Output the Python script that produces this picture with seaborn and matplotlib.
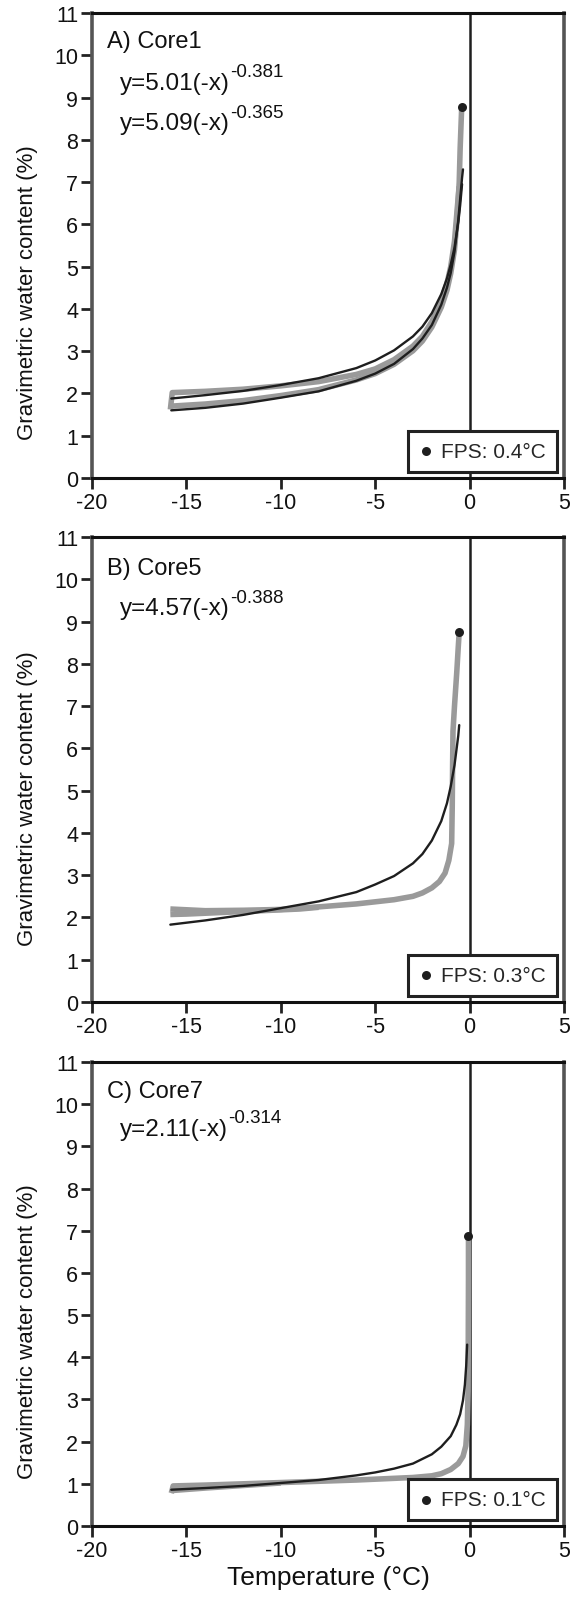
import matplotlib
matplotlib.use('Agg')
import matplotlib.pyplot as plt
import seaborn as sns
import pandas as pd

# ---------------- data ----------------
panel_titles = ["A) Core1", "B) Core5", "C) Core7"]
fps_labels = ["FPS: 0.4\u00b0C", "FPS: 0.3\u00b0C", "FPS: 0.1\u00b0C"]
x_ticks = [-20, -15, -10, -5, 0, 5]
y_ticks = list(range(12))

# Panel A (Core1)
A_gray1_x = [-15.8, -14, -12, -10, -8, -6, -5, -4, -3, -2.5, -2, -1.5, -1.2, -1.0, -0.8, -0.65, -0.55, -0.5, -0.45, -0.42]
A_gray1_y = [1.70, 1.75, 1.83, 1.95, 2.09, 2.32, 2.47, 2.69, 3.01, 3.24, 3.57, 4.04, 4.44, 4.84, 5.40, 6.20, 7.00, 7.80, 8.40, 8.75]
A_gray2_x = [-15.85, -15.75, -14, -12, -10, -8, -6, -5, -4, -3, -2.5, -2, -1.5, -1.2, -1.0, -0.8, -0.65, -0.55]
A_gray2_y = [1.62, 2.02, 2.05, 2.10, 2.18, 2.28, 2.45, 2.58, 2.80, 3.12, 3.35, 3.70, 4.20, 4.60, 5.00, 5.60, 6.40, 6.90]
A_fit1_x = [-15.8, -14, -12, -10, -8, -6, -5, -4, -3, -2.5, -2, -1.5, -1.2, -1.0, -0.8, -0.6, -0.5, -0.4]
A_fit1_y = [1.88, 1.96, 2.06, 2.20, 2.36, 2.60, 2.78, 3.02, 3.35, 3.58, 3.90, 4.35, 4.72, 5.05, 5.45, 6.05, 6.45, 6.95]
A_fit2_x = [-15.8, -14, -12, -10, -8, -6, -5, -4, -3, -2.5, -2, -1.5, -1.2, -1.0, -0.8, -0.6, -0.5, -0.4, -0.35]
A_fit2_y = [1.60, 1.66, 1.76, 1.90, 2.05, 2.30, 2.47, 2.70, 3.05, 3.30, 3.62, 4.10, 4.50, 4.85, 5.35, 6.10, 6.60, 7.10, 7.30]
A_fps = (-0.42, 8.77)
A_eq_main = ["y=5.01(-x)", "y=5.09(-x)"]
A_eq_exp = ["-0.381", "-0.365"]

# Panel B (Core5)
B_gray1_x = [-15.85, -14, -12, -10, -8, -6, -5, -4, -3, -2.5, -2, -1.6, -1.3, -1.1, -0.95, -0.92, -0.90, -0.88, -0.80, -0.68, -0.60, -0.55]
B_gray1_y = [2.20, 2.16, 2.17, 2.19, 2.25, 2.32, 2.37, 2.42, 2.50, 2.58, 2.70, 2.85, 3.05, 3.35, 3.75, 4.60, 5.60, 6.40, 7.00, 7.80, 8.40, 8.75]
B_gray2_x = [-15.85, -15, -13, -11, -9, -8]
B_gray2_y = [2.07, 2.08, 2.12, 2.16, 2.20, 2.24]
B_fit_x = [-15.85, -14, -12, -10, -8, -6, -5, -4, -3, -2.5, -2, -1.5, -1.2, -1.0, -0.8, -0.7, -0.6, -0.55]
B_fit_y = [1.83, 1.93, 2.06, 2.22, 2.38, 2.60, 2.78, 2.98, 3.28, 3.50, 3.82, 4.28, 4.70, 5.10, 5.60, 5.95, 6.30, 6.55]
B_fps = (-0.55, 8.75)
B_eq_main = ["y=4.57(-x)"]
B_eq_exp = ["-0.388"]

# Panel C (Core7)
C_gray1_x = [-15.8, -15.7, -14, -12, -10, -8, -6, -5, -4, -3, -2, -1.5, -1.0, -0.6, -0.35, -0.2, -0.12, -0.08, -0.07, -0.06, -0.06]
C_gray1_y = [0.78, 0.95, 0.97, 1.00, 1.03, 1.06, 1.09, 1.11, 1.13, 1.15, 1.19, 1.24, 1.34, 1.48, 1.65, 1.90, 2.40, 3.20, 4.50, 5.80, 6.85]
C_gray2_x = [-15.8, -14, -12, -10]
C_gray2_y = [0.84, 0.90, 0.96, 1.02]
C_fit_x = [-15.8, -14, -12, -10, -8, -6, -5, -4, -3, -2, -1.5, -1.0, -0.7, -0.5, -0.35, -0.25, -0.18, -0.13]
C_fit_y = [0.86, 0.90, 0.95, 1.02, 1.09, 1.20, 1.27, 1.36, 1.48, 1.70, 1.88, 2.13, 2.40, 2.65, 2.98, 3.35, 3.80, 4.30]
C_fps = (-0.08, 6.88)
C_eq_main = ["y=2.11(-x)"]
C_eq_exp = ["-0.314"]

# ---------------- style ----------------
sns.set_theme(style="ticks")
plt.rcParams['font.family'] = ['Liberation Sans', 'DejaVu Sans']
plt.rcParams['axes.unicode_minus'] = False

W, H = 571, 1606
fig = plt.figure(figsize=(W / 100, H / 100), dpi=100)
fig.patch.set_facecolor('white')

boxes = [(92, 14, 564, 479), (92, 538, 564, 1003), (92, 1063, 564, 1527)]
axes = [fig.add_axes([l / W, (H - b) / H, (r - l) / W, (b - t) / H]) for (l, t, r, b) in boxes]

GRAY = '#9a9a9a'
BLACK = '#1e1e1e'
TXT = '#111111'

panels = [
    dict(grays=[(A_gray2_x, A_gray2_y), (A_gray1_x, A_gray1_y)],
         fits=[(A_fit1_x, A_fit1_y), (A_fit2_x, A_fit2_y)], fps=A_fps,
         eqm=A_eq_main, eqe=A_eq_exp, eq_y=[0.837, 0.750], title_y=0.927, ylab_y=0.40),
    dict(grays=[(B_gray2_x, B_gray2_y), (B_gray1_x, B_gray1_y)],
         fits=[(B_fit_x, B_fit_y)], fps=B_fps, eqm=B_eq_main, eqe=B_eq_exp,
         eq_y=[0.834], title_y=0.920, ylab_y=0.44),
    dict(grays=[(C_gray2_x, C_gray2_y), (C_gray1_x, C_gray1_y)],
         fits=[(C_fit_x, C_fit_y)], fps=C_fps, eqm=C_eq_main, eqe=C_eq_exp,
         eq_y=[0.843], title_y=0.925, ylab_y=0.42),
]

for i, (ax, p) in enumerate(zip(axes, panels)):
    ax.axvline(0, color=BLACK, lw=1.8, zorder=1)
    for gx, gy in p['grays']:
        sns.lineplot(x=gx, y=gy, ax=ax, color=GRAY, lw=4, sort=False,
                     estimator=None, legend=False, zorder=2, solid_capstyle='butt')
    for fx, fy in p['fits']:
        sns.lineplot(x=fx, y=fy, ax=ax, color=BLACK, lw=1.7, sort=False,
                     estimator=None, legend=False, zorder=3)
    fps_df = pd.DataFrame({'T': [p['fps'][0]], 'W': [p['fps'][1]]})
    sns.scatterplot(data=fps_df, x='T', y='W', ax=ax, color=BLACK, s=42,
                    edgecolor=BLACK, linewidth=0, zorder=5, label=fps_labels[i])

    ax.set_xlim(-20, 5)
    ax.set_ylim(0, 11)
    ax.set_xticks(x_ticks)
    ax.set_xticklabels([str(v) for v in x_ticks])
    ax.set_yticks(y_ticks)
    ax.set_yticklabels([str(v) for v in y_ticks])
    ax.tick_params(direction='out', length=8, width=2, labelsize=15.5, pad=2,
                   color='#222222', labelcolor=TXT)
    for s in ['top', 'bottom']:
        ax.spines[s].set_color('#111111')
        ax.spines[s].set_linewidth(2.2)
    for s in ['left', 'right']:
        ax.spines[s].set_color('#555555')
        ax.spines[s].set_linewidth(2.6)
    ax.set_ylabel('Gravimetric water content (%)', fontsize=16, color=TXT)
    ax.yaxis.set_label_coords(-0.114, p['ylab_y'])
    if i == 2:
        ax.set_xlabel('Temperature (\u00b0C)', fontsize=19, color=TXT, labelpad=3)
    else:
        ax.set_xlabel('')

    ax.text(0.032, p['title_y'], panel_titles[i], transform=ax.transAxes,
            fontsize=17, va='baseline', ha='left', color=TXT)
    for em, ee, ey in zip(p['eqm'], p['eqe'], p['eq_y']):
        t = ax.text(0.059, ey, em, transform=ax.transAxes, fontsize=17.5,
                    va='baseline', ha='left', color=TXT)
        ax.annotate(ee, xy=(1.0, 0.62), xycoords=t, xytext=(0.5, 0),
                    textcoords='offset points', fontsize=13.5, va='bottom',
                    ha='left', color=TXT)

    leg = ax.legend(loc='lower right', bbox_to_anchor=(0.985, 0.012), fontsize=15,
                    frameon=True, fancybox=False, framealpha=1, edgecolor='#222222',
                    handlelength=0.6, handletextpad=0.4, borderpad=0.55,
                    borderaxespad=0, markerscale=1.0)
    leg.get_frame().set_linewidth(2.2)
    leg.set_zorder(10)

fig.savefig('out.png', dpi=100, facecolor='white')
